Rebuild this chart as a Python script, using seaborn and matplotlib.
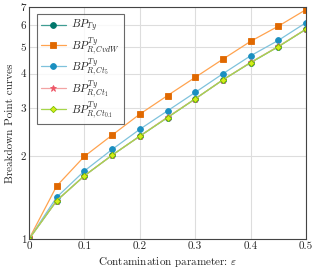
import seaborn as sns
import matplotlib.pyplot as plt
import pandas as pd
import numpy as np

# Data
eps = [0.0, 0.05, 0.1, 0.15, 0.2, 0.25, 0.3, 0.35, 0.4, 0.45, 0.5]
bp_ty = [1.0, 1.38, 1.70, 2.02, 2.37, 2.77, 3.24, 3.80, 4.39, 5.02, 5.81]
bp_cvdw = [1.0, 1.56, 2.00, 2.39, 2.85, 3.33, 3.88, 4.52, 5.25, 5.96, 6.85]
bp_ct5 = [1.0, 1.42, 1.77, 2.12, 2.51, 2.93, 3.42, 4.00, 4.65, 5.29, 6.14]
bp_ct1 = [1.0, 1.38, 1.70, 2.02, 2.37, 2.78, 3.24, 3.80, 4.40, 5.03, 5.82]
bp_ct01 = [1.0, 1.38, 1.70, 2.02, 2.37, 2.77, 3.24, 3.80, 4.39, 5.02, 5.81]
yticks = [1, 2, 3, 4, 5, 6, 7]
xticks = [0, 0.1, 0.2, 0.3, 0.4, 0.5]

labels = [r"$BP_{Ty}$", r"$BP^{Ty}_{R,CvdW}$", r"$BP^{Ty}_{R,Ct_5}$",
          r"$BP^{Ty}_{R,Ct_1}$", r"$BP^{Ty}_{R,Ct_{0.1}}$"]
series = [bp_ty, bp_cvdw, bp_ct5, bp_ct1, bp_ct01]

# style: (line colour, marker face, marker edge, marker, size)
styles = [
    ("#3f9d93", "#00776b", "#00776b", "o", 4.2),
    ("#ffa34f", "#e06800", "#e06800", "s", 4.2),
    ("#7fc2dc", "#1a8fc0", "#1a8fc0", "o", 4.2),
    ("#f3a3a3", "#ee5566", "#ee5566", "*", 5.0),
    ("#a6d64a", "#d6ec1a", "#7cc000", "D", 3.2),
]

sns.set_style("whitegrid")
plt.rcParams["font.family"] = "serif"
plt.rcParams["font.serif"] = ["cmr10", "DejaVu Serif"]
plt.rcParams["mathtext.fontset"] = "cm"
plt.rcParams["axes.formatter.use_mathtext"] = True

fig = plt.figure(figsize=(3.18, 2.73), dpi=100)
ax = fig.add_axes([0.0912, 0.1245, 0.8711, 0.8498])

for lab, ys, (lc, mfc, mec, mk, ms) in zip(labels, series, styles):
    df = pd.DataFrame({"eps": eps, "bp": ys})
    sns.lineplot(data=df, x="eps", y="bp", ax=ax, color=lc, linewidth=0.9,
                 marker=mk, markersize=ms, markerfacecolor=mfc,
                 markeredgecolor=mec, markeredgewidth=0.6, label=lab)

ax.set_yscale("log")
ax.set_ylim(1, 7)
ax.set_xlim(0, 0.5)
ax.set_yticks(yticks)
ax.set_yticklabels([str(t) for t in yticks])
ax.minorticks_off()
ax.set_xticks(xticks)
ax.set_xticklabels(["0", "0.1", "0.2", "0.3", "0.4", "0.5"])
ax.tick_params(labelsize=8, length=0, pad=2)
ax.grid(True, color="#dddddd", linewidth=0.8)
for s in ax.spines.values():
    s.set_color("#444444")
    s.set_linewidth(0.8)

ax.set_xlabel(r"Contamination parameter: $\varepsilon$", fontsize=8, labelpad=3)
ax.set_ylabel("Breakdown Point curves", fontsize=8, labelpad=4)

leg = ax.legend(loc="upper left", bbox_to_anchor=(0.03, 0.97), fontsize=8,
                frameon=True, fancybox=False, handlelength=2.2,
                borderpad=0.35, labelspacing=0.05, handletextpad=0.5,
                borderaxespad=0)
leg.get_frame().set_edgecolor("#444444")
leg.get_frame().set_linewidth(0.8)

plt.savefig("out.png", dpi=100)
plt.close()
